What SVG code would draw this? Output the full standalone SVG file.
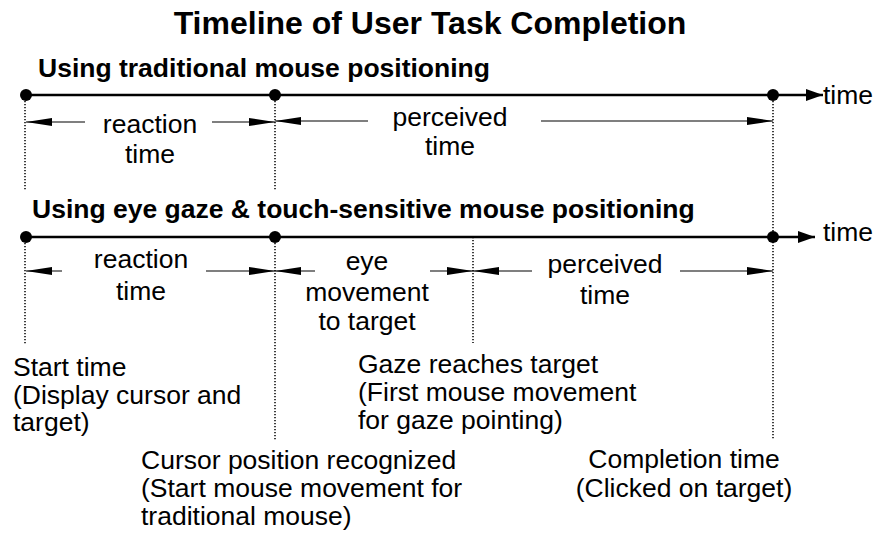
<svg xmlns="http://www.w3.org/2000/svg" width="875" height="535" viewBox="0 0 875 535">
<style>
text{font-family:"Liberation Sans",Arial,sans-serif;fill:#000}
.t{font-size:32px;font-weight:bold}
.h{font-size:26.5px;font-weight:bold}
.l{font-size:26.5px}
.m{text-anchor:middle}
.axis{stroke:#000;stroke-width:2.6;fill:none}
.dim{stroke:#000;stroke-width:1.2;fill:none;marker-end:url(#dh)}
.dot{stroke:#000;stroke-width:1.5;stroke-dasharray:1.2 1.8;fill:none}
</style>
<defs>
<marker id="dh" markerUnits="userSpaceOnUse" markerWidth="26" markerHeight="8" refX="26" refY="4" orient="auto"><path d="M0,0 L26,4 L0,8 Z" fill="#000"/></marker>
<marker id="ah" markerUnits="userSpaceOnUse" markerWidth="17" markerHeight="12" refX="17" refY="6" orient="auto"><path d="M0,0 L17,6 L0,12 Z" fill="#000"/></marker>
</defs>
<text class="t m" x="430" y="34">Timeline of User Task Completion</text>
<g id="row1">
<text class="h" x="38" y="77">Using traditional mouse positioning</text>
<line class="axis" x1="26" y1="95" x2="823" y2="95" marker-end="url(#ah)"/>
<text class="l" x="823" y="104">time</text>
</g>
<g id="row2">
<text class="h" x="32" y="218">Using eye gaze &amp; touch-sensitive mouse positioning</text>
<line class="axis" x1="26" y1="237" x2="815" y2="237" marker-end="url(#ah)"/>
<text class="l" x="823" y="241">time</text>
</g>
<g id="guides">
<line class="dot" x1="25" y1="95" x2="25" y2="191"/>
<line class="dot" x1="25" y1="237" x2="25" y2="345"/>
<line class="dot" x1="275" y1="95" x2="275" y2="191"/>
<line class="dot" x1="275" y1="237" x2="275" y2="440"/>
<line class="dot" x1="473" y1="237" x2="473" y2="343"/>
<line class="dot" x1="773" y1="95" x2="773" y2="440"/>
</g>
<g id="events">
<circle cx="26" cy="95" r="6"/>
<circle cx="275" cy="95" r="6"/>
<circle cx="773" cy="95" r="6"/>
<circle cx="26" cy="237" r="6"/>
<circle cx="275" cy="237" r="6"/>
<circle cx="773" cy="237" r="6"/>
</g>
<g id="connectors">
<line class="dim" x1="85" y1="122" x2="26" y2="122"/>
<line class="dim" x1="212" y1="122" x2="275" y2="122"/>
<line class="dim" x1="368" y1="121" x2="275" y2="121"/>
<line class="dim" x1="541" y1="121" x2="773" y2="121"/>
<line class="dim" x1="62" y1="271" x2="26" y2="271"/>
<line class="dim" x1="206" y1="271" x2="275" y2="271"/>
<line class="dim" x1="315" y1="271" x2="275" y2="271"/>
<line class="dim" x1="430" y1="271" x2="473" y2="271"/>
<line class="dim" x1="532" y1="271" x2="473" y2="271"/>
<line class="dim" x1="680" y1="271" x2="773" y2="271"/>
</g>
<g id="reaction1"><text class="l m" x="150" y="133">reaction</text><text class="l m" x="150" y="163">time</text></g>
<g id="perceived1"><text class="l m" x="450" y="126">perceived</text><text class="l m" x="450" y="155">time</text></g>
<g id="reaction2"><text class="l m" x="141" y="268">reaction</text><text class="l m" x="141" y="300">time</text></g>
<g id="eye2"><text class="l m" x="367" y="270">eye</text><text class="l m" x="367" y="301">movement</text><text class="l m" x="367" y="330">to target</text></g>
<g id="perceived2"><text class="l m" x="605" y="273">perceived</text><text class="l m" x="605" y="304">time</text></g>
<g id="start"><text class="l" x="13" y="376">Start time</text><text class="l" x="13" y="404">(Display cursor and</text><text class="l" x="13" y="431">target)</text></g>
<g id="gaze"><text class="l" x="358" y="373">Gaze reaches target</text><text class="l" x="358" y="401">(First mouse movement</text><text class="l" x="358" y="429">for gaze pointing)</text></g>
<g id="cursor"><text class="l" x="141" y="469">Cursor position recognized</text><text class="l" x="141" y="497">(Start mouse movement for</text><text class="l" x="141" y="525">traditional mouse)</text></g>
<g id="completion"><text class="l m" x="684" y="468">Completion time</text><text class="l m" x="684" y="497">(Clicked on target)</text></g>
</svg>
